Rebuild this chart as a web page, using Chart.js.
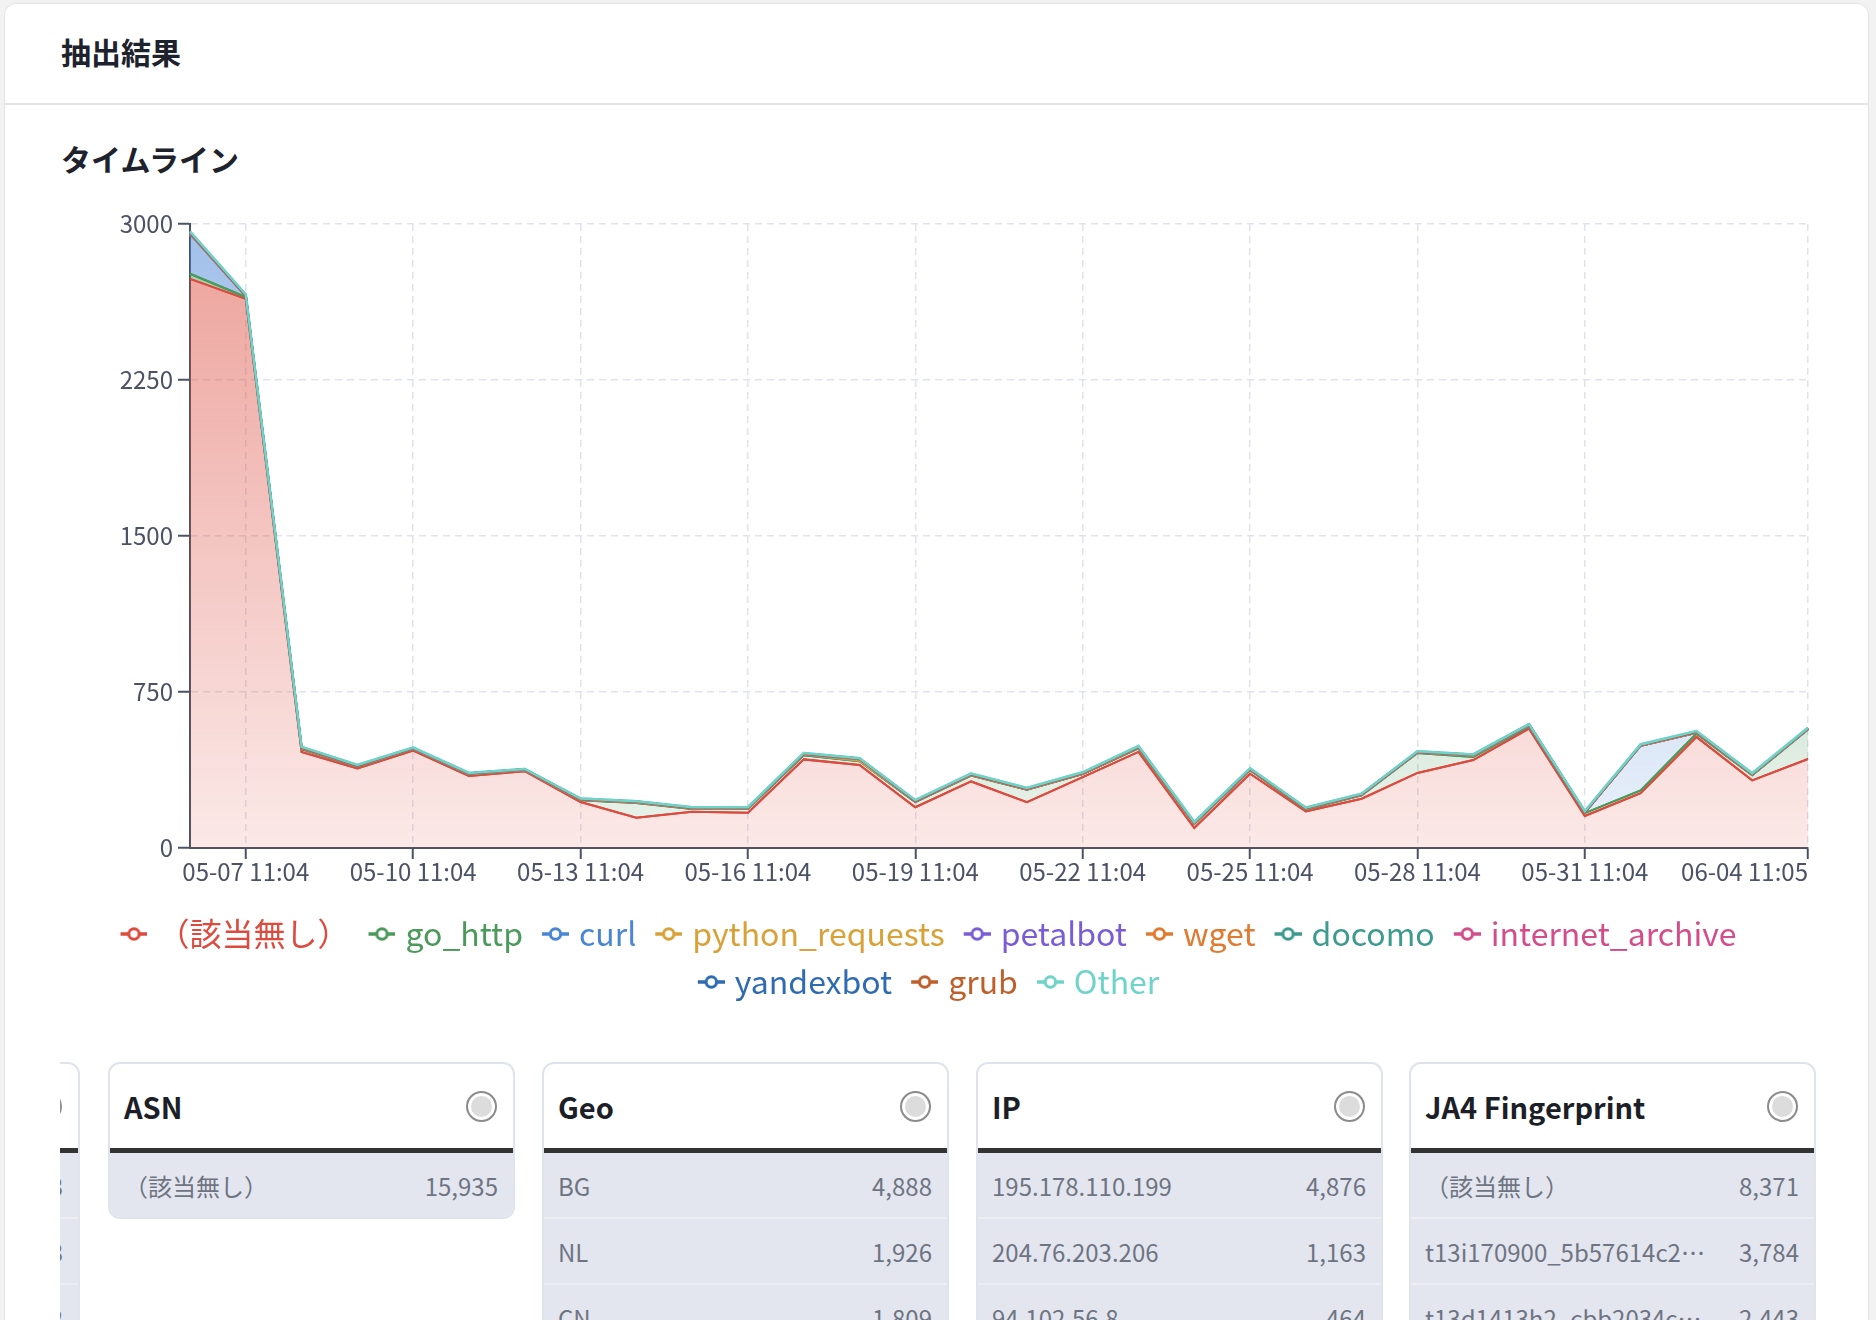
<!DOCTYPE html>
<html lang="ja">
<head>
<meta charset="utf-8">
<script src="https://cdn.jsdelivr.net/npm/chart.js@4.4.1/dist/chart.umd.min.js"></script>
<style>
html,body{margin:0;padding:0;}
body{width:1876px;height:1320px;background:#f2f2f3;position:relative;overflow:hidden;font-family:"Noto Sans CJK JP","Noto Sans",sans-serif;}
.panel{position:absolute;left:4px;top:3px;width:1863px;height:1400px;background:#fff;border:1px solid #e4e4e6;border-radius:12px;}
.hdr{position:absolute;left:61px;top:31px;font-size:30px;font-weight:700;color:#1e222c;line-height:40px;white-space:nowrap;}
.sep{position:absolute;left:5px;top:103px;width:1863px;height:2px;background:#e3e3e5;}
.sub{position:absolute;left:61px;top:138px;font-size:30px;font-weight:700;color:#1e222c;line-height:40px;white-space:nowrap;}
#chartBox{position:absolute;left:46px;top:190px;width:1830px;height:818px;}
.strip{position:absolute;left:60px;top:1055px;width:1790px;height:300px;overflow:hidden;}
.card{position:absolute;top:7px;width:403px;border:2px solid #dfe3ec;border-radius:12px;background:#fff;overflow:hidden;}
.card .head{height:84px;display:flex;align-items:center;justify-content:space-between;padding:0 16px 0 14px;}
.card .title{font-size:29px;font-weight:700;color:#1c1f27;}
.card .radio{width:27px;height:27px;border-radius:50%;border:2px solid #8c8c8c;background:#dcdcdc;box-shadow:inset 0 0 0 3px #fff;}
.card .bar{height:5px;background:#333;}
.card .row{height:64px;border-bottom:2px solid #eceef4;background:#e3e6ef;display:flex;align-items:center;justify-content:space-between;padding:0 15px 0 14px;font-size:24px;color:#6f7482;}
.card .row .k{white-space:nowrap;overflow:hidden;text-overflow:ellipsis;max-width:290px;}
.card .row .v{white-space:nowrap;}
</style>
</head>
<body>
<div class="panel"></div>
<div class="hdr">抽出結果</div>
<div class="sep"></div>
<div class="sub">タイムライン</div>
<div id="chartBox"><canvas id="c" width="1830" height="818" style="width:1830px;height:818px;"></canvas></div>
<div class="strip">
  <div class="card" style="left:-387px;">
    <div class="head"><span class="title">UA</span><span class="radio"></span></div>
    <div class="bar"></div>
    <div class="row"><span class="k">python-requests</span><span class="v">1,213</span></div>
    <div class="row"><span class="k">curl</span><span class="v">983</span></div>
    <div class="row"><span class="k">wget</span><span class="v">352</span></div>
  </div>
  <div class="card" style="left:48px;">
    <div class="head"><span class="title">ASN</span><span class="radio"></span></div>
    <div class="bar"></div>
    <div class="row" style="border-bottom:none;"><span class="k">（該当無し）</span><span class="v">15,935</span></div>
  </div>
  <div class="card" style="left:482px;">
    <div class="head"><span class="title">Geo</span><span class="radio"></span></div>
    <div class="bar"></div>
    <div class="row"><span class="k">BG</span><span class="v">4,888</span></div>
    <div class="row"><span class="k">NL</span><span class="v">1,926</span></div>
    <div class="row"><span class="k">CN</span><span class="v">1,809</span></div>
  </div>
  <div class="card" style="left:916px;">
    <div class="head"><span class="title">IP</span><span class="radio"></span></div>
    <div class="bar"></div>
    <div class="row"><span class="k">195.178.110.199</span><span class="v">4,876</span></div>
    <div class="row"><span class="k">204.76.203.206</span><span class="v">1,163</span></div>
    <div class="row"><span class="k">94.102.56.8</span><span class="v">464</span></div>
  </div>
  <div class="card" style="left:1349px;">
    <div class="head"><span class="title">JA4 Fingerprint</span><span class="radio"></span></div>
    <div class="bar"></div>
    <div class="row"><span class="k">（該当無し）</span><span class="v">8,371</span></div>
    <div class="row"><span class="k" style="max-width:282px;">t13i170900_5b57614c22b0_3d5424432f57</span><span class="v">3,784</span></div>
    <div class="row"><span class="k" style="max-width:282px;">t13d1413h2_cbb2034c0f1e_7f0f34a4126d</span><span class="v">2,443</span></div>
  </div>
</div>
<script>
const FONT = '"Noto Sans CJK JP", "Noto Sans", sans-serif';

const categories = [
  '05-06 11:04','05-07 11:04','05-08 11:04','05-09 11:04','05-10 11:04','05-11 11:04',
  '05-12 11:04','05-13 11:04','05-14 11:04','05-15 11:04','05-16 11:04','05-17 11:04',
  '05-18 11:04','05-19 11:04','05-20 11:04','05-21 11:04','05-22 11:04','05-23 11:04',
  '05-24 11:04','05-25 11:04','05-26 11:04','05-27 11:04','05-28 11:04','05-29 11:04',
  '05-30 11:04','05-31 11:04','06-01 11:04','06-02 11:04','06-03 11:04','06-04 11:05'
];
// index 0 is an unlabeled anchor tick (hidden), the rest carry labels
const xTickIndices = [0,1,4,7,10,13,16,19,22,25,29];
const yTickValues = [0,750,1500,2250,3000];

const seriesNames = ['（該当無し）','go_http','curl','python_requests','petalbot','wget','docomo','internet_archive','yandexbot','grub','Other'];
const seriesColors = ['#dc4b3e','#4c9a5b','#4a86d6','#d9a238','#7a5dd6','#e07b31','#3d9a8e','#d34d8a','#2e6bb3','#bf5f2a','#6ed3c8'];

const noneVals   = [2736,2640,462,382,468,346,369,221,146,174,170,426,399,196,320,220,341,462,96,357,176,237,361,423,574,154,264,534,325,428];
const goHttpVals = [25,9,13,9,8,8,5,9,70,14,18,20,18,25,28,60,14,17,20,17,8,16,96,15,10,14,13,16,25,142];
const curlVals   = [190,4,3,2,2,2,1,2,3,2,3,2,2,2,2,2,2,2,2,2,4,3,2,5,5,2,215,4,2,2];
const pythonVals = [1,0,0,0,0,0,0,0,0,0,0,1,0,0,0,0,0,0,0,0,0,0,0,0,0,0,0,0,0,0];
const petalVals  = [2,0,1,0,0,0,0,0,0,0,0,1,8,0,1,0,0,1,0,0,0,0,0,2,1,0,0,0,0,0];
const wgetVals   = [1,0,0,0,0,0,0,0,0,0,0,0,0,0,0,0,0,0,0,0,0,0,0,0,1,0,0,0,0,0];
const docomoVals = [3,3,3,3,2,2,2,3,3,3,2,3,2,3,3,3,3,3,3,3,3,2,3,2,2,3,3,3,3,3];
const iaVals     = [0,0,0,0,0,0,0,0,0,0,0,0,0,0,0,0,0,1,0,0,0,0,0,0,0,0,0,1,0,0];
const yandexVals = [2,1,1,1,1,1,1,1,1,1,1,1,1,1,1,1,1,1,1,1,1,1,1,1,1,1,1,1,1,1];
const grubVals   = [1,0,0,0,0,0,0,0,0,0,0,0,0,0,0,0,0,0,0,0,0,0,0,0,0,0,0,0,0,0];
const otherVals  = [3,4,3,2,2,2,2,2,2,2,2,3,2,3,3,3,3,3,3,3,2,2,2,2,2,3,2,3,3,2];

const seriesValues = [noneVals,goHttpVals,curlVals,pythonVals,petalVals,wgetVals,docomoVals,iaVals,yandexVals,grubVals,otherVals];

function rgba(hex, a){
  const n = parseInt(hex.slice(1),16);
  return 'rgba(' + ((n>>16)&255) + ',' + ((n>>8)&255) + ',' + (n&255) + ',' + a + ')';
}
function gradFill(color){
  return (ctx) => {
    const chart = ctx.chart; const ca = chart.chartArea;
    if (!ca) return rgba(color,0.3);
    const g = chart.ctx.createLinearGradient(0, ca.top, 0, ca.bottom);
    g.addColorStop(0, rgba(color,0.52));
    g.addColorStop(1, rgba(color,0.12));
    return g;
  };
}
function makeIcon(color){
  const c = document.createElement('canvas');
  c.width = 36; c.height = 18;
  const x = c.getContext('2d');
  x.strokeStyle = color; x.lineWidth = 3.5;
  x.beginPath(); x.moveTo(9,9); x.lineTo(36,9); x.stroke();
  x.beginPath(); x.arc(22.5,9,5.2,0,Math.PI*2);
  x.fillStyle = '#fff'; x.fill(); x.lineWidth = 3; x.stroke();
  return c;
}
const icons = seriesColors.map(makeIcon);

const datasets = seriesNames.map((name,i) => ({
  label: name,
  data: seriesValues[i],
  borderColor: seriesColors[i],
  backgroundColor: gradFill(seriesColors[i]),
  borderWidth: i === seriesNames.length - 1 ? 2.5 : 2,
  pointRadius: 0,
  pointHoverRadius: 0,
  tension: 0,
  fill: i === 0 ? 'origin' : '-1'
}));

// draw the series lines again in forward order so the upper series sit on top
const lineOrderPlugin = {
  id: 'lineOrder',
  afterDatasetsDraw(chart){
    const ctx = chart.ctx, ca = chart.chartArea;
    ctx.save();
    ctx.beginPath();
    ctx.rect(ca.left - 2, ca.top - 4, ca.width + 4, ca.height + 6);
    ctx.clip();
    for (let i = 0; i < chart.data.datasets.length; i++){
      const meta = chart.getDatasetMeta(i);
      if (meta.dataset) meta.dataset.draw(ctx, ca);
    }
    ctx.restore();
  }
};

const AXIS = '#4b5265';
const GRID = '#e0e3ed';
const CLEAR = 'rgba(0,0,0,0)';

new Chart(document.getElementById('c'), {
  type: 'line',
  data: { labels: categories, datasets },
  plugins: [lineOrderPlugin],
  options: {
    responsive: false,
    animation: false,
    devicePixelRatio: 1,
    layout: { padding: { left: 0, top: 34, right: 68, bottom: 0 } },
    plugins: {
      filler: { drawTime: 'beforeDatasetsDraw' },
      tooltip: { enabled: false },
      legend: {
        position: 'bottom',
        labels: {
          usePointStyle: true,
          pointStyleWidth: 24,
          boxHeight: 14,
          padding: 16,
          font: { size: 32, family: FONT },
          generateLabels(chart){
            const items = Chart.defaults.plugins.legend.labels.generateLabels(chart);
            items.forEach((it,i) => {
              it.fontColor = seriesColors[i];
              it.pointStyle = icons[i];
            });
            return items;
          }
        }
      }
    },
    scales: {
      x: {
        afterBuildTicks(scale){ scale.ticks = xTickIndices.map(v => ({ value: v })); },
        afterFit(scale){ scale.height = 54; },
        grid: {
          color: (c) => c.index === 0 ? CLEAR : GRID,
          lineWidth: 1.5, tickLength: 11,
          tickColor: (c) => c.index === 0 ? CLEAR : AXIS,
          tickWidth: 2
        },
        border: { color: AXIS, width: 2, dash: [7,5] },
        ticks: {
          autoSkip: false, maxRotation: 0, align: 'inner', color: AXIS, padding: -1.5,
          font: { size: 24, family: FONT },
          callback(value){ return value === 0 ? '' : this.getLabelForValue(value); }
        }
      },
      y: {
        stacked: true,
        min: 0,
        max: 3000,
        afterBuildTicks(scale){ scale.ticks = yTickValues.map(v => ({ value: v })); },
        afterFit(scale){ scale.width = 144; },
        grid: { color: GRID, lineWidth: 1.5, tickLength: 12, tickColor: AXIS, tickWidth: 2 },
        border: { color: AXIS, width: 2, dash: [7,5] },
        ticks: { color: AXIS, padding: 5, font: { size: 24, family: FONT }, callback: (v) => String(v) }
      }
    }
  }
});
</script>
</body>
</html>
